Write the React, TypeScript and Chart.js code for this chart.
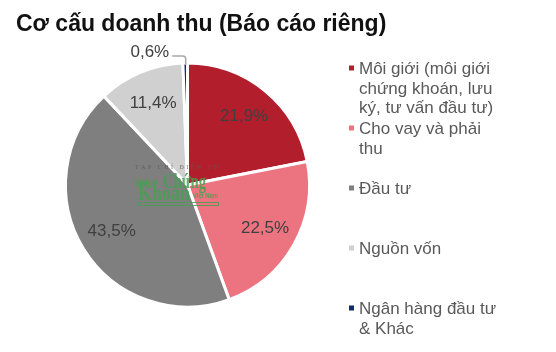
import React, { useEffect, useRef } from "react";
import { Chart, registerables } from "chart.js";

Chart.register(...registerables);

const TITLE = "Cơ cấu doanh thu (Báo cáo riêng)";
const categories = [
  "Môi giới (môi giới chứng khoán, lưu ký, tư vấn đầu tư)",
  "Cho vay và phải thu",
  "Đầu tư",
  "Nguồn vốn",
  "Ngân hàng đầu tư & Khác",
];
const legendLines = [
  ["Môi giới (môi giới", "chứng khoán, lưu", "ký, tư vấn đầu tư)"],
  ["Cho vay và phải", "thu"],
  ["Đầu tư"],
  ["Nguồn vốn"],
  ["Ngân hàng đầu tư", "& Khác"],
];
const values = [21.9, 22.5, 43.5, 11.4, 0.6];
const colors = ["#b21e2c", "#ec7480", "#7f7f7f", "#d0d0d0", "#132a6a"];

const FONT = "'Liberation Sans', Arial, sans-serif";
const SERIF = "'Liberation Serif', 'DejaVu Serif', serif";
const fmt = (v: number) => v.toFixed(1).replace(".", ",") + "%";

const decorPlugin = {
  id: "decor",
  afterDatasetsDraw(chart: any) {
    const ctx = chart.ctx as CanvasRenderingContext2D;
    const meta = chart.getDatasetMeta(0);
    ctx.save();

    // watermark
    const cx = meta.data[0].x;
    const cy = meta.data[0].y;
    ctx.globalAlpha = 0.85;
    ctx.textAlign = "left";
    ctx.textBaseline = "alphabetic";
    ctx.fillStyle = "#5a5a5a";
    ctx.font = `7px ${SERIF}`;
    (ctx as any).letterSpacing = "3px";
    ctx.fillText("TẠP CHÍ ĐIỆN TỬ", cx - 52.5, cy - 16, 86);
    (ctx as any).letterSpacing = "0px";
    ctx.fillStyle = "#45a050";
    ctx.font = `bold 9px ${FONT}`;
    ctx.fillText("Kinh tế", cx - 52.5, cy + 0.5, 22);
    ctx.font = `bold 20px ${SERIF}`;
    ctx.fillText("Chứng", cx - 24.5, cy + 3, 43);
    ctx.fillText("Khoán", cx - 49.5, cy + 15, 52);
    ctx.font = `bold 8px ${FONT}`;
    ctx.fillText("Việt Nam", cx + 5.5, cy + 13, 25);
    ctx.strokeStyle = "#45a050";
    ctx.lineWidth = 1;
    ctx.strokeRect(cx - 49, cy + 17.5, 80, 3);
    ctx.globalAlpha = 1;

    // slice labels
    ctx.font = `17px ${FONT}`;
    ctx.fillStyle = "#404040";
    ctx.textAlign = "center";
    ctx.textBaseline = "middle";
    meta.data.forEach((arc: any, i: number) => {
      const p = arc.getProps(["x", "y", "startAngle", "endAngle", "outerRadius"], true);
      const mid = (p.startAngle + p.endAngle) / 2;
      if (values[i] < 2) {
        const ex = p.x + p.outerRadius * Math.cos(mid);
        const ey = p.y + p.outerRadius * Math.sin(mid);
        ctx.strokeStyle = "#a6a6a6";
        ctx.lineWidth = 1.5;
        ctx.beginPath();
        ctx.moveTo(ex + 0.5, ey + 2);
        ctx.lineTo(ex + 0.5, ey - 4);
        ctx.quadraticCurveTo(ex + 0.5, ey - 7, ex - 2.5, ey - 7);
        ctx.lineTo(ex - 13, ey - 7);
        ctx.stroke();
        ctx.textAlign = "right";
        ctx.fillText(fmt(values[i]), ex - 16, ey - 11);
        ctx.textAlign = "center";
        return;
      }
      const r = p.outerRadius * 0.73;
      ctx.fillText(fmt(values[i]), p.x + r * Math.cos(mid), p.y + r * Math.sin(mid));
    });

    // title
    ctx.fillStyle = "#111";
    ctx.textAlign = "left";
    ctx.textBaseline = "alphabetic";
    ctx.font = `bold 23px ${FONT}`;
    ctx.fillText(TITLE, 16, 31);

    // legend
    ctx.font = `17px ${FONT}`;
    legendLines.forEach((lines, i) => {
      const top = 62 + i * 60;
      ctx.fillStyle = colors[i];
      ctx.fillRect(349, top + 3.5, 5, 5);
      ctx.fillStyle = "#595959";
      lines.forEach((ln, j) => {
        ctx.fillText(ln, 359, top + 12.2 + j * 19.3);
      });
    });
    ctx.restore();
  },
};

export default function App() {
  const ref = useRef<HTMLCanvasElement | null>(null);
  useEffect(() => {
    if (!ref.current) return;
    const chart = new Chart(ref.current, {
      type: "pie",
      data: {
        labels: categories,
        datasets: [
          {
            data: values,
            backgroundColor: colors,
            borderColor: "#ffffff",
            borderWidth: 3,
          },
        ],
      },
      options: {
        responsive: true,
        maintainAspectRatio: false,
        animation: false,
        events: [],
        layout: { padding: { left: 64, top: 61.5, right: 245, bottom: 43.5 } },
        plugins: {
          legend: { display: false },
          tooltip: { enabled: false },
          title: { display: false },
        },
      },
      plugins: [decorPlugin],
    });
    return () => chart.destroy();
  }, []);
  return (
    <div style={{ position: "fixed", left: 0, top: 0, width: 556, height: 352, background: "#fff" }}>
      <canvas ref={ref} />
    </div>
  );
}
